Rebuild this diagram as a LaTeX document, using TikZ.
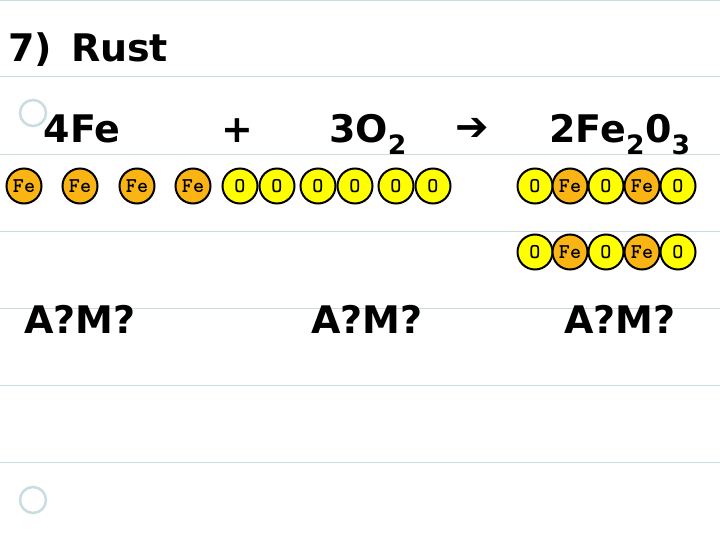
\documentclass[tikz,border=0pt]{standalone}
\usepackage{fontspec}
\setmainfont{DejaVu Sans}
\usetikzlibrary{positioning}
\definecolor{ruleblue}{RGB}{200,220,226}
\definecolor{feorange}{RGB}{250,180,20}
\definecolor{oyellow}{RGB}{255,255,0}
\tikzset{
  atom/.style={draw, circle, line width=2pt, minimum size=35pt, inner sep=0pt, font=\ttfamily\bfseries\fontsize{21}{21}\selectfont},
  fe/.style={atom, fill=feorange},
  ox/.style={atom, fill=oyellow},
  big/.style={font=\bfseries\fontsize{38}{38}\selectfont, anchor=base}
}
\begin{document}
\begin{tikzpicture}[x=1pt, y=-1pt]
    \fill[white] (0,0) rectangle (720,540);
    \useasboundingbox (0,0) rectangle (720,540);
    \foreach \y in {0,76,154,231,308,385,462}
        \draw[ruleblue, thick] (0,\y) -- (720,\y);
    \draw[ruleblue, line width=2.5pt] (33,113) circle (13);
    \draw[ruleblue, line width=2.5pt] (33,500) circle (13);

    \node[big, anchor=base west, inner sep=0pt] (title) at (8,62) {7)\hspace{0.5em}Rust};
    \node[big] (fe4) at (82,143) {4Fe};
    \node[big] (plus) at (237,143) {+};
    \node[big] (o3) at (368,143) {3O\textsubscript{2}};
    \node[big, font=\bfseries\fontsize{40}{40}\selectfont] (arrow) at (472,141) {➔};
    \node[big] (prod) at (620,143) {2Fe\textsubscript{2}0\textsubscript{3}};

    \node[fe] (a1) at (24,186) {Fe};
    \node[fe] (a2) at (80,186) {Fe};
    \node[fe] (a3) at (137,186) {Fe};
    \node[fe] (a4) at (193,186) {Fe};
    \node[ox] (b1) at (240,186) {O};
    \node[ox] (b2) at (277,186) {O};
    \node[ox] (b3) at (318,186) {O};
    \node[ox] (b4) at (355,186) {O};
    \node[ox] (b5) at (396,186) {O};
    \node[ox] (b6) at (433,186) {O};

    \foreach \r/\y in {1/186,2/252} {
        \node[ox] (c\r1) at (535,\y) {O};
        \node[fe] (c\r2) at (570,\y) {Fe};
        \node[ox] (c\r3) at (606,\y) {O};
        \node[fe] (c\r4) at (642,\y) {Fe};
        \node[ox] (c\r5) at (678,\y) {O};
    }

    \node[big] (am1) at (80,333) {A?M?};
    \node[big] (am2) at (367,333) {A?M?};
    \node[big] (am3) at (620,333) {A?M?};
\end{tikzpicture}
\end{document}
